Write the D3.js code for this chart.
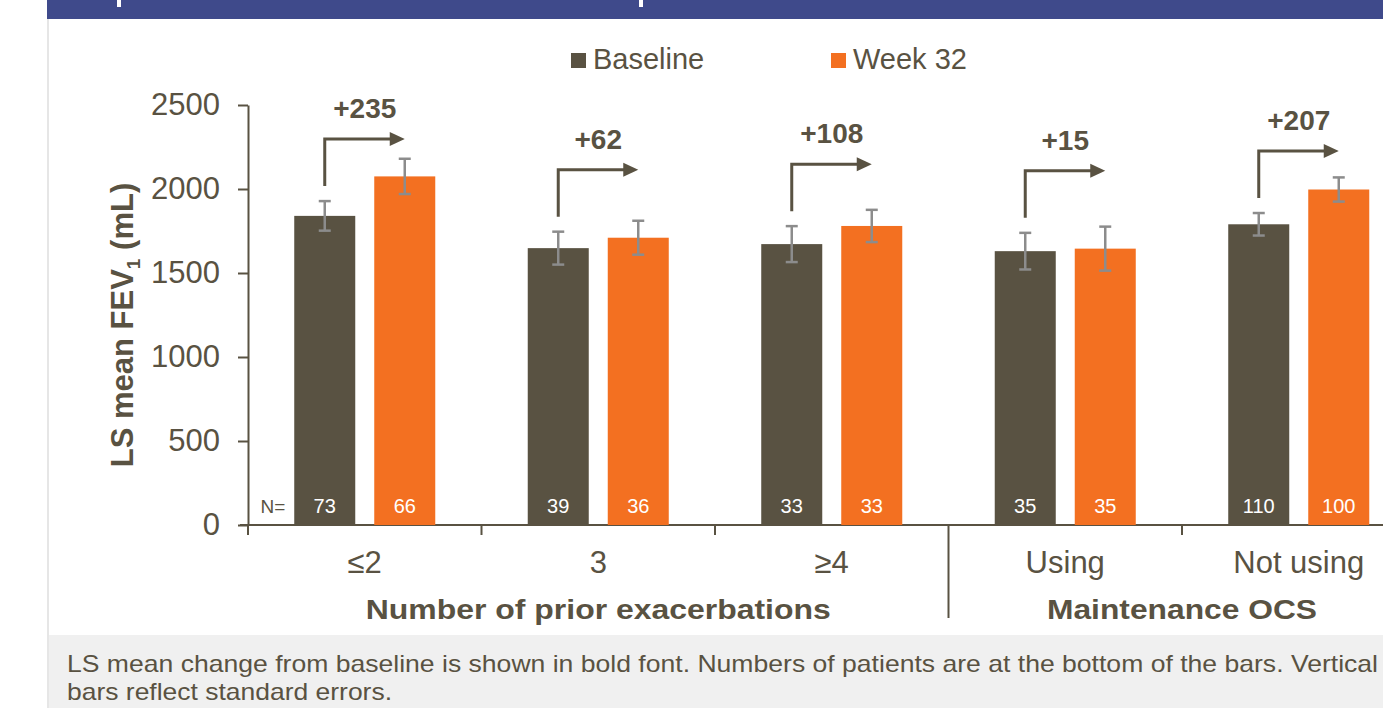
<!DOCTYPE html>
<html lang="en">
<head>
<meta charset="utf-8">
<title>LS mean FEV1 by subgroup</title>
<script src="https://cdn.jsdelivr.net/npm/d3@7"></script>
<style>
  body { margin: 0; background: #fff; }
  svg { display: block; font-family: "Liberation Sans", Arial, sans-serif; }
  .foot { font-family: "Liberation Sans Narrow", "Arial Narrow", "Liberation Sans", sans-serif; }
</style>
</head>
<body>
<svg width="1383" height="708"></svg>
<script>
// data
var categories = ["≤2", "3", "≥4", "Using", "Not using"];
var groups = [
  { label: "Number of prior exacerbations", from: 0, to: 3, w: 465 },
  { label: "Maintenance OCS", from: 3, to: 5, w: 270 }
];
var series = ["Baseline", "Week 32"];
var baseline = [1840, 1648, 1672, 1630, 1790];
var baselineSE = [88, 98, 107, 109, 67];
var week32 = [2075, 1710, 1780, 1645, 1997];
var week32SE = [105, 101, 96, 131, 72];
var nBaseline = [73, 39, 33, 35, 110];
var nWeek32 = [66, 36, 33, 35, 100];
var changes = ["+235", "+62", "+108", "+15", "+207"];
var yTicks = [0, 500, 1000, 1500, 2000, 2500];

var dark = "#595242", orange = "#F37021", errGrey = "#8C8C8C", textCol = "#595242";

var svg = d3.select("svg");

// header band and panel edge
svg.append("rect").attr("x", 47).attr("y", 0).attr("width", 1336).attr("height", 19).attr("fill", "#3F4A8B");
svg.append("rect").attr("x", 117).attr("y", 0).attr("width", 4).attr("height", 7).attr("fill", "#fff");
svg.append("rect").attr("x", 639).attr("y", 0).attr("width", 4).attr("height", 7).attr("fill", "#fff");
svg.append("line").attr("x1", 48).attr("x2", 48).attr("y1", 19).attr("y2", 708)
  .attr("stroke", "#E6E6E6").attr("stroke-width", 2);

var step = 233.5;
var x0 = d3.scaleBand().domain(categories).range([248, 248 + step * categories.length]);
var x1 = d3.scaleBand().domain(series).range([0, x0.bandwidth()]).paddingInner(0.2375).paddingOuter(0.578);
var y = d3.scaleLinear().domain([0, 2500]).range([525, 105]);

// y axis
var yAxis = svg.append("g").attr("transform", "translate(248,0)")
  .call(d3.axisLeft(y).tickValues(yTicks).tickFormat(d3.format("d")).tickSize(10).tickPadding(18).tickSizeOuter(0));
yAxis.select(".domain").attr("stroke", textCol).attr("stroke-width", 2);
yAxis.selectAll(".tick line").attr("stroke", textCol).attr("stroke-width", 2);
yAxis.selectAll(".tick text").attr("fill", textCol).attr("font-size", 31).attr("font-family", "Liberation Sans, Arial");

svg.append("text")
  .attr("transform", "translate(133,325) rotate(-90)")
  .attr("text-anchor", "middle").attr("font-size", 31).attr("font-weight", "bold").attr("fill", textCol)
  .call(function (t) {
    t.append("tspan").text("LS mean FEV");
    t.append("tspan").attr("font-size", 19).attr("dy", 7).text("1");
    t.append("tspan").attr("dy", -7).text(" (mL)");
  });

// x axis line
svg.append("line").attr("x1", 240).attr("x2", 1383).attr("y1", 525).attr("y2", 525)
  .attr("stroke", textCol).attr("stroke-width", 2);

// category boundary ticks
var bounds = d3.range(categories.length + 1);
svg.selectAll(".xtick").data(bounds).enter().append("line")
  .attr("x1", function (i) { return 248 + step * i; })
  .attr("x2", function (i) { return 248 + step * i; })
  .attr("y1", 525)
  .attr("y2", function (i) { return i === 3 ? 618 : 535; })
  .attr("stroke", textCol).attr("stroke-width", 2);

// category labels
svg.selectAll(".xlab").data(categories).enter().append("text")
  .attr("x", function (d) { return x0(d) + x0.bandwidth() / 2; })
  .attr("y", 573).attr("text-anchor", "middle").attr("font-size", 31).attr("fill", textCol)
  .text(function (d) { return d; });

// group labels
svg.selectAll(".glab").data(groups).enter().append("text")
  .attr("x", function (g) { return 248 + step * (g.from + g.to) / 2 - g.w / 2; })
  .attr("y", 619).attr("font-size", 28).attr("font-weight", "bold").attr("fill", textCol)
  .attr("textLength", function (g) { return g.w; }).attr("lengthAdjust", "spacingAndGlyphs")
  .text(function (g) { return g.label; });

// bars
var rows = categories.map(function (c, i) {
  return [
    { cat: c, s: "Baseline", v: baseline[i], se: baselineSE[i], n: nBaseline[i], col: dark },
    { cat: c, s: "Week 32", v: week32[i], se: week32SE[i], n: nWeek32[i], col: orange }
  ];
});
var flat = [].concat.apply([], rows);

svg.selectAll(".bar").data(flat).enter().append("rect")
  .attr("x", function (d) { return x0(d.cat) + x1(d.s); })
  .attr("y", function (d) { return y(d.v); })
  .attr("width", x1.bandwidth())
  .attr("height", function (d) { return y(0) - y(d.v); })
  .attr("fill", function (d) { return d.col; });

// N labels
svg.selectAll(".nlab").data(flat).enter().append("text")
  .attr("x", function (d) { return x0(d.cat) + x1(d.s) + x1.bandwidth() / 2; })
  .attr("y", 513).attr("text-anchor", "middle").attr("font-size", 20).attr("fill", "#fff")
  .text(function (d) { return d.n; });
svg.append("text").attr("x", 273).attr("y", 513).attr("text-anchor", "middle")
  .attr("font-size", 19).attr("fill", textCol).text("N=");

// error bars
var eb = svg.selectAll(".err").data(flat).enter().append("g")
  .attr("stroke", errGrey).attr("stroke-width", 2.5);
function cx(d) { return x0(d.cat) + x1(d.s) + x1.bandwidth() / 2; }
eb.append("line").attr("x1", cx).attr("x2", cx)
  .attr("y1", function (d) { return y(d.v + d.se); }).attr("y2", function (d) { return y(d.v - d.se); });
eb.append("line").attr("x1", function (d) { return cx(d) - 6; }).attr("x2", function (d) { return cx(d) + 6; })
  .attr("y1", function (d) { return y(d.v + d.se); }).attr("y2", function (d) { return y(d.v + d.se); });
eb.append("line").attr("x1", function (d) { return cx(d) - 6; }).attr("x2", function (d) { return cx(d) + 6; })
  .attr("y1", function (d) { return y(d.v - d.se); }).attr("y2", function (d) { return y(d.v - d.se); });

// change arrows
var arr = svg.selectAll(".arrow").data(rows).enter().append("g");
arr.append("path")
  .attr("fill", "none").attr("stroke", dark).attr("stroke-width", 3)
  .attr("d", function (r) {
    var xa = cx(r[0]), xb = cx(r[1]) - 12;
    var yb = y(r[0].v + r[0].se) - 15, yt = yb - 47;
    return "M" + xa + "," + yb + "V" + yt + "H" + xb;
  });
arr.append("path").attr("fill", dark)
  .attr("d", function (r) {
    var xb = cx(r[1]), yt = y(r[0].v + r[0].se) - 62;
    return "M" + (xb - 15) + "," + (yt - 7) + "L" + xb + "," + yt + "L" + (xb - 15) + "," + (yt + 7) + "Z";
  });
arr.append("text")
  .attr("x", function (r) { return (cx(r[0]) + cx(r[1])) / 2; })
  .attr("y", function (r) { return y(r[0].v + r[0].se) - 83; })
  .attr("text-anchor", "middle").attr("font-size", 28).attr("font-weight", "bold").attr("fill", textCol)
  .text(function (r, i) { return changes[i]; });

// legend
var leg = svg.selectAll(".leg").data(series).enter().append("g")
  .attr("transform", function (d, i) { return "translate(" + (i === 0 ? 571 : 831) + ",53)"; });
leg.append("rect").attr("width", 15).attr("height", 15)
  .attr("fill", function (d, i) { return i === 0 ? dark : orange; });
leg.append("text").attr("x", 22).attr("y", 16).attr("font-size", 29).attr("fill", textCol)
  .text(function (d) { return d; });

// footnote
svg.append("rect").attr("x", 49).attr("y", 635).attr("width", 1334).attr("height", 73).attr("fill", "#F0F0F0");
svg.append("text").attr("class", "foot").attr("x", 67).attr("y", 672).attr("font-size", 24).attr("fill", textCol)
  .attr("textLength", 1311).attr("lengthAdjust", "spacingAndGlyphs")
  .text("LS mean change from baseline is shown in bold font. Numbers of patients are at the bottom of the bars. Vertical");
svg.append("text").attr("class", "foot").attr("x", 67).attr("y", 700).attr("font-size", 24).attr("fill", textCol)
  .attr("textLength", 325).attr("lengthAdjust", "spacingAndGlyphs")
  .text("bars reflect standard errors.");
</script>
</body>
</html>
